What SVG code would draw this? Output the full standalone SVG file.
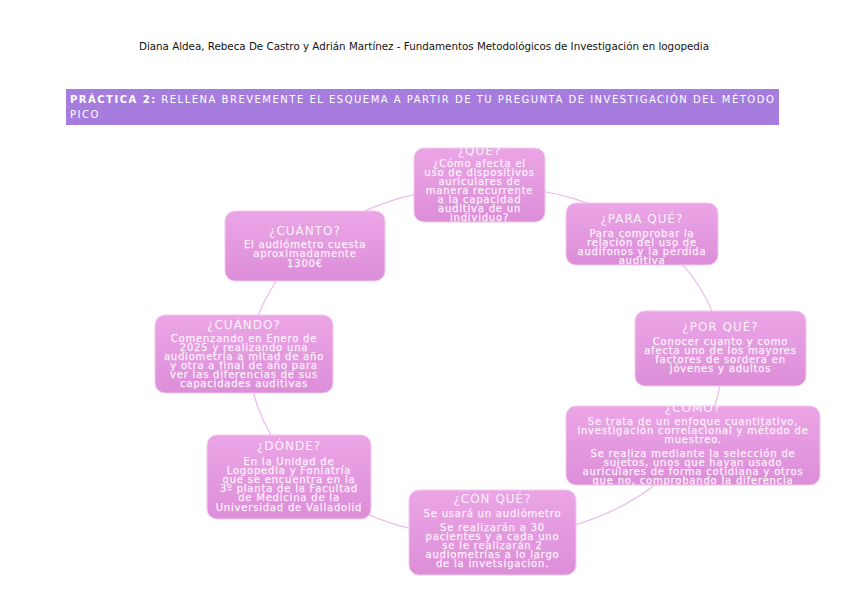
<svg xmlns="http://www.w3.org/2000/svg" width="848" height="599" viewBox="0 0 848 599">
<defs>
<linearGradient id="g" x1="0" y1="0" x2="0" y2="1">
<stop offset="0" stop-color="#eba5e6"/>
<stop offset="1" stop-color="#dc8ed8"/>
</linearGradient>
<clipPath id="cQue"><rect x="414" y="148" width="131" height="74" rx="10"/></clipPath>
<clipPath id="cPara"><rect x="566" y="203" width="152" height="62" rx="10"/></clipPath>
<clipPath id="cComo"><rect x="566" y="406" width="254" height="79" rx="10"/></clipPath>
</defs>
<style>
.hdr{font-family:"DejaVu Sans",sans-serif;font-size:10.3px;fill:#111}
.bar{fill:#a67ddf}
.bt{font-family:"DejaVu Sans",sans-serif;font-size:10px;fill:#fff;letter-spacing:1.5px}
.box{fill:url(#g);stroke:#f3c8ef;stroke-width:1}
.t{font-family:"DejaVu Sans",sans-serif;font-size:12px;fill:#fdf0fb;text-anchor:middle;letter-spacing:1px}
.b{font-family:"DejaVu Sans",sans-serif;font-size:10px;fill:#fdf0fb;stroke:#fdf0fb;stroke-width:0.25;text-anchor:middle;letter-spacing:0.8px}
.c{fill:none;stroke:#ebbcea;stroke-width:1.2}
</style>
<rect width="848" height="599" fill="#fff"/>
<text class="hdr" x="424" y="50" text-anchor="middle">Diana Aldea, Rebeca De Castro y Adrián Martínez - Fundamentos Metodológicos de Investigación en logopedia</text>
<rect class="bar" x="66" y="89" width="713" height="36"/>
<text class="bt" x="70" y="103"><tspan font-weight="bold">PRÁCTICA 2:</tspan> RELLENA BREVEMENTE EL ESQUEMA A PARTIR DE TU PREGUNTA DE INVESTIGACIÓN DEL MÉTODO</text>
<text class="bt" x="70" y="118">PICO</text>
<g id="connectors">
<ellipse class="c" cx="486" cy="362" rx="236" ry="176"/>
</g>
<g id="n-que">
<rect class="box" x="414" y="148" width="131" height="74" rx="10"/>
<g clip-path="url(#cQue)">
<text class="t" x="479.5" y="155">¿QUÉ?</text>
<text class="b" x="479.5" y="167">¿Cómo afecta el</text>
<text class="b" x="479.5" y="176">uso de dispositivos</text>
<text class="b" x="479.5" y="185">auriculares de</text>
<text class="b" x="479.5" y="194">manera recurrente</text>
<text class="b" x="479.5" y="203">a la capacidad</text>
<text class="b" x="479.5" y="212">auditiva de un</text>
<text class="b" x="479.5" y="221">individuo?</text>
</g>
</g>
<g id="n-para">
<rect class="box" x="566" y="203" width="152" height="62" rx="10"/>
<g clip-path="url(#cPara)">
<text class="t" x="642" y="223">¿PARA QUÉ?</text>
<text class="b" x="642" y="237">Para comprobar la</text>
<text class="b" x="642" y="246">relación del uso de</text>
<text class="b" x="642" y="255">audífonos y la pérdida</text>
<text class="b" x="642" y="264">auditiva</text>
</g>
</g>
<g id="n-cuanto">
<rect class="box" x="225" y="211" width="160" height="70" rx="10"/>
<text class="t" x="305" y="235">¿CUÁNTO?</text>
<text class="b" x="305" y="248">El audiómetro cuesta</text>
<text class="b" x="305" y="257">aproximadamente</text>
<text class="b" x="305" y="267">1300€</text>
</g>
<g id="n-cuando">
<rect class="box" x="155" y="315" width="178" height="78" rx="10"/>
<text class="t" x="244" y="329">¿CUÁNDO?</text>
<text class="b" x="244" y="342">Comenzando en Enero de</text>
<text class="b" x="244" y="351">2025 y realizando una</text>
<text class="b" x="244" y="360">audiometría a mitad de año</text>
<text class="b" x="244" y="369">y otra a final de año para</text>
<text class="b" x="244" y="378">ver las diferencias de sus</text>
<text class="b" x="244" y="387">capacidades auditivas</text>
</g>
<g id="n-porque">
<rect class="box" x="635" y="311" width="171" height="75" rx="10"/>
<text class="t" x="720.5" y="331">¿POR QUÉ?</text>
<text class="b" x="720.5" y="345">Conocer cuanto y como</text>
<text class="b" x="720.5" y="354">afecta uno de los mayores</text>
<text class="b" x="720.5" y="363">factores de sordera en</text>
<text class="b" x="720.5" y="372">jóvenes y adultos</text>
</g>
<g id="n-como">
<rect class="box" x="566" y="406" width="254" height="79" rx="10"/>
<g clip-path="url(#cComo)">
<text class="t" x="693" y="412">¿CÓMO?</text>
<text class="b" x="693" y="425">Se trata de un enfoque cuantitativo,</text>
<text class="b" x="693" y="434">investigación correlacional y método de</text>
<text class="b" x="693" y="443">muestreo.</text>
<text class="b" x="693" y="457">Se realiza mediante la selección de</text>
<text class="b" x="693" y="466">sujetos, unos que hayan usado</text>
<text class="b" x="693" y="475">auriculares de forma cotidiana y otros</text>
<text class="b" x="693" y="484">que no, comprobando la diferencia</text>
</g>
</g>
<g id="n-donde">
<rect class="box" x="207" y="435" width="164" height="84" rx="10"/>
<text class="t" x="289" y="450">¿DÓNDE?</text>
<text class="b" x="289" y="465">En la Unidad de</text>
<text class="b" x="289" y="474">Logopedia y Foniatría</text>
<text class="b" x="289" y="483">que se encuentra en la</text>
<text class="b" x="289" y="492">3º planta de la Facultad</text>
<text class="b" x="289" y="501">de Medicina de la</text>
<text class="b" x="289" y="511">Universidad de Valladolid</text>
</g>
<g id="n-conque">
<rect class="box" x="409" y="490" width="167" height="85" rx="10"/>
<text class="t" x="492.5" y="503">¿CON QUÉ?</text>
<text class="b" x="492.5" y="517">Se usará un audiómetro</text>
<text class="b" x="492.5" y="531">Se realizarán a 30</text>
<text class="b" x="492.5" y="540">pacientes y a cada uno</text>
<text class="b" x="492.5" y="549">se le realizarán 2</text>
<text class="b" x="492.5" y="558">audiometrías a lo largo</text>
<text class="b" x="492.5" y="567">de la invetsigación.</text>
</g>
</svg>
